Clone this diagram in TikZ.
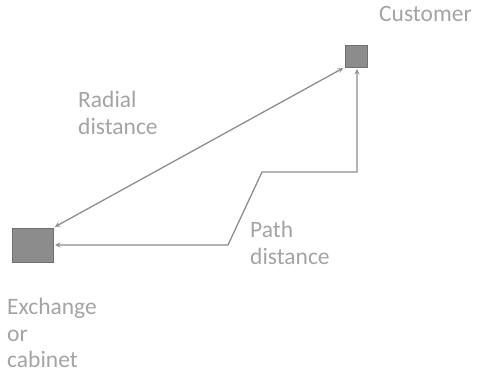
\documentclass[tikz,border=0pt]{standalone}
\usepackage{fontspec}
\setmainfont{Carlito}
\usetikzlibrary{positioning}
\definecolor{boxgray}{HTML}{8C8C8C}
\definecolor{linegray}{HTML}{8E8E8E}
\definecolor{txtgray}{HTML}{A4A4A4}

\begin{document}
\begin{tikzpicture}[
    x=1pt, y=-1pt,
    site/.style={draw=boxgray!80!black, fill=boxgray, inner sep=0pt},
    arr/.style={<->, line width=1.3pt, >=stealth, linegray, shorten >=2pt, shorten <=2pt},
    lbl/.style={font=\fontsize{23.5}{26.5}\selectfont, text=txtgray, align=left, anchor=north west, inner sep=0pt},
]
\useasboundingbox (0,0) rectangle (483,387);

% --- Sites ---
\node[site, minimum width=41pt, minimum height=34pt] (exch) at (32.5, 245) {};
\node[site, minimum width=22pt, minimum height=22pt] (cust) at (356, 56) {};

% --- Labels ---
\node[lbl] (custlbl) at (379, 6) {Customer};
\node[lbl] (radlbl) at (78, 91) {Radial\\distance};
\node[lbl] (pathlbl) at (250, 221) {Path\\distance};
\node[lbl] (exchlbl) at (7, 298) {Exchange\\or\\cabinet};

% --- Path bends ---
\coordinate (b1) at (228, 245);
\coordinate (b2) at (262, 172);
\coordinate (b3) at (357, 172);

% --- Distances ---
\draw[arr] (exch.north east) -- (cust.south west);
\draw[arr] (exch.east) -- (b1) -- (b2) -- (b3) -- (cust.south -| b3);

\end{tikzpicture}
\end{document}
